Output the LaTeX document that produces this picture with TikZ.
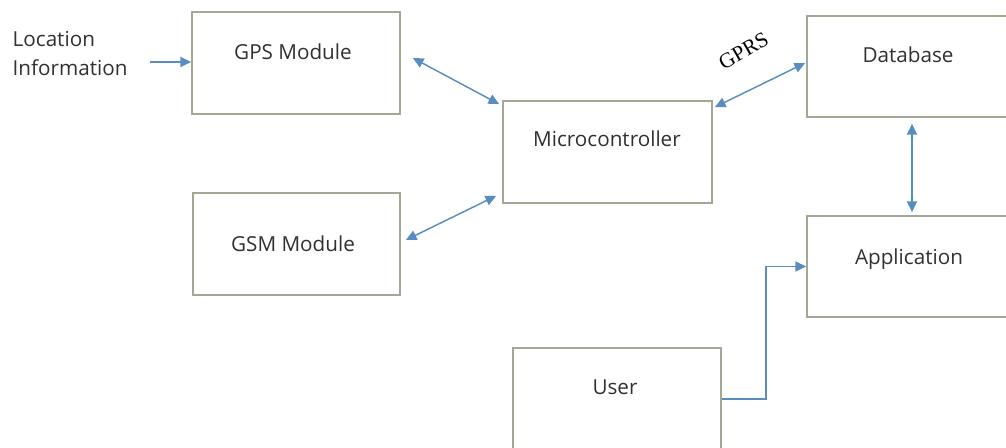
\documentclass[tikz,border=0pt]{standalone}
\usepackage{fontspec}
\setmainfont{Open Sans}
\newfontfamily\gprsfont{Liberation Serif}
\usetikzlibrary{arrows.meta,calc}
\definecolor{boxline}{HTML}{A3A894}
\definecolor{link}{HTML}{5A8DBF}
\definecolor{ink}{HTML}{303030}
\begin{document}
\begin{tikzpicture}[x=0.75pt,y=-0.75pt,
  block/.style 2 args={draw=boxline,line width=1.3pt,inner sep=0pt,
    minimum width=#1*0.75pt,minimum height=#2*0.75pt},
  caption/.style={anchor=base,text=ink,font=\fontsize{15.5}{20}\selectfont},
  tip/.style={},
  link/.style={draw=link,line width=1.1pt,
    arrows={-Triangle[length=8pt,width=7.5pt]}},
  link2/.style={link,arrows={Triangle[length=8pt,width=7.5pt]-Triangle[length=8pt,width=7.5pt]}}]

\path[use as bounding box] (0,0) rectangle (1006,448);
\clip (0,0) rectangle (1006,448);

% blocks
\node[block={208}{102}] (gps)  at (296,63)    {};
\node[block={207}{102}] (gsm)  at (296.5,244) {};
\node[block={209}{102}] (mcu)  at (607.5,152) {};
\node[block={206}{101}] (db)   at (910,66.5)  {};
\node[block={206}{101}] (app)  at (910,266.5) {};
\node[block={208}{102}] (user) at (617,399)   {};

% block captions
\node[caption] (gpsT)  at (293,60)  {GPS Module};
\node[caption] (gsmT)  at (293,252) {GSM Module};
\node[caption] (mcuT)  at (607,147) {Microcontroller};
\node[caption] (dbT)   at (908,63)  {Database};
\node[caption] (appT)  at (909,265) {Application};
\node[caption] (userT) at (615,395) {User};

% input text
\node[caption,anchor=base west] (loc1) at (8,47) {Location};
\node[caption,anchor=base west] (loc2) at (8,76) {Information};

% link label
\node[anchor=base,rotate=30,inner sep=0pt,
      font=\gprsfont\fontsize{16}{18}\selectfont] (gprs) at (747,57) {GPRS};

% connectors
\coordinate (locout) at (150,62);
\draw[link] (locout) -- (locout -| gps.west);

\draw[link2] ($(gps.east)+(12,-5)$) -- ($(mcu.north west)+(-3,4)$);
\draw[link2] ($(gsm.east)+(5,-4)$) -- ($(mcu.south west)+(-6,-8)$);
\draw[link2] ($(mcu.north east)+(2,7)$) -- ($(db.west)+(-1,-3.5)$);
\draw[link2] ($(db.south)+(2,6)$) -- ($(app.north)+(2,-3)$);
\draw[link] (user.east) -- ++(44,0) |- (app.west);

\end{tikzpicture}
\end{document}
